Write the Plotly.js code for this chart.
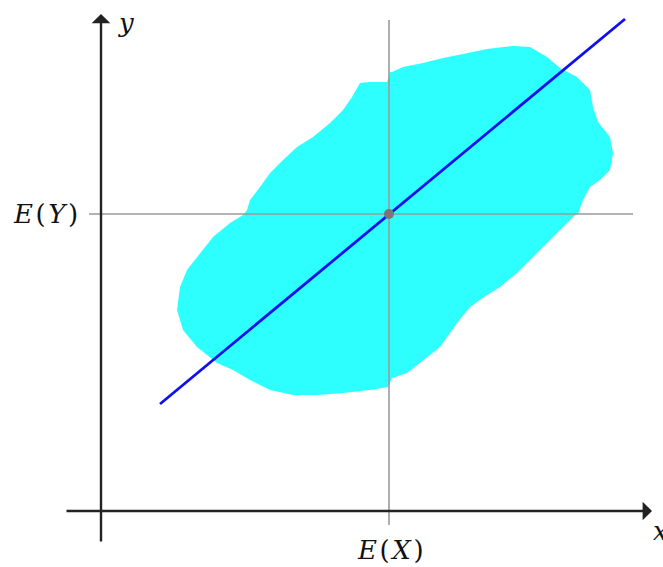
<!DOCTYPE html>
<html>
<head>
<meta charset="utf-8">
<script src="https://cdn.plot.ly/plotly-3.0.1.min.js"></script>
<style>html,body{margin:0;padding:0;background:#fff;}#chart{width:663px;height:567px;}</style>
</head>
<body>
<div id="chart"></div>
<script>
// Cloud outline, units: origin at axes crossing
var cloudX = [29.1,30.2,32.2,34.2,36.2,38.6,41.2,42.9,44.6,45.9,47.6,48.9,49.2,49.7,50.9,51.2,50.9,49.9,48.9,48.2,47.7,
  47.4,46.2,44.9,43.2,41.6,39.9,38.6,36.9,35.6,33.9,32.2,30.6,29.1,
  28.7,26.9,24.2,21.6,19.2,16.9,14.9,13.2,11.6,9.6,8.2,7.6,7.9,8.6,9.9,11.2,12.9,14.2,
  14.6,14.9,15.9,16.9,18.2,19.6,21.2,22.9,24.2,25.1,25.9,26.9,28.6,28.9];
var cloudY = [43.9,44.4,44.8,45.3,45.7,46.2,46.5,46.4,45.4,44.3,43.4,42.1,40.4,38.9,37.4,35.8,34.1,33.1,32.4,31.1,29.7,
  29.6,28.4,27.1,25.4,23.8,22.4,21.6,20.4,18.8,16.4,15.1,13.8,13.3,
  12.4,12.1,11.8,11.6,11.6,12.1,13.1,14.1,14.8,16.4,18.1,20.1,22.4,24.1,25.8,27.4,28.8,29.6,
  30.1,31.1,32.4,33.8,35.1,36.4,37.4,38.8,40.1,41.4,42.8,42.9,42.9,43.9];

var meanX = 28.8, meanY = 29.7;
var vGuideY = [-1.4, 49.1];
var hGuideX = [-1.2, 53.2];
var regX = [5.9, 52.4];
var regY = [10.7, 49.2];
var xAxisX = [-3.6, 55.1];
var yAxisY = [-3.2, 49.7];
var labels = {ey: '<i>E</i>\u200A(\u200A<i>Y</i>\u200A)', ex: '<i>E</i>\u200A(\u200A<i>X</i>\u200A)', y: '<i>y</i>', x: '<i>x</i>'};

var traces = [
  {x: cloudX, y: cloudY, mode: 'lines', fill: 'toself', fillcolor: 'rgb(45,255,255)',
   line: {width: 0, color: 'rgb(45,255,255)'}, hoverinfo: 'skip'},
  {x: [meanX, meanX], y: vGuideY, mode: 'lines', line: {color: '#9a9a9a', width: 1.6}, hoverinfo: 'skip'},
  {x: hGuideX, y: [meanY, meanY], mode: 'lines', line: {color: '#9a9a9a', width: 1.6}, hoverinfo: 'skip'},
  {x: regX, y: regY, mode: 'lines', line: {color: '#1010ee', width: 2.8}, hoverinfo: 'skip'},
  {x: [meanX], y: [meanY], mode: 'markers', marker: {color: '#777777', size: 10}, hoverinfo: 'skip'}
];

var labelFont = {family: 'DejaVu Serif', size: 26, color: '#111'};
var annotations = [
  {x: xAxisX[1], y: 0, ax: xAxisX[0], ay: 0, xref: 'x', yref: 'y', axref: 'x', ayref: 'y',
   text: '', showarrow: true, arrowhead: 1, arrowsize: 1.3, arrowwidth: 2.4, arrowcolor: '#222', standoff: 0},
  {x: 0, y: yAxisY[1], ax: 0, ay: yAxisY[0], xref: 'x', yref: 'y', axref: 'x', ayref: 'y',
   text: '', showarrow: true, arrowhead: 1, arrowsize: 1.3, arrowwidth: 2.4, arrowcolor: '#222', standoff: 0},
  {x: -2.1, y: meanY, xref: 'x', yref: 'y', text: labels.ey, showarrow: false,
   xanchor: 'right', yanchor: 'middle', font: labelFont},
  {x: meanX + 0.1, y: -3.9, xref: 'x', yref: 'y', text: labels.ex, showarrow: false,
   xanchor: 'center', yanchor: 'middle', font: labelFont},
  {x: 1.5, y: 48.8, xref: 'x', yref: 'y', text: labels.y, showarrow: false,
   xanchor: 'left', yanchor: 'middle', font: labelFont},
  {x: 55.0, y: -2.0, xref: 'x', yref: 'y', text: labels.x, showarrow: false,
   xanchor: 'left', yanchor: 'middle', font: labelFont}
];

var layout = {
  width: 663, height: 567,
  margin: {l: 0, r: 0, t: 0, b: 0},
  paper_bgcolor: '#fff', plot_bgcolor: '#fff',
  showlegend: false,
  xaxis: {range: [-10.1, 56.2], visible: false, fixedrange: true},
  yaxis: {range: [-5.6, 51.1], visible: false, fixedrange: true},
  annotations: annotations
};

Plotly.newPlot('chart', traces, layout, {staticPlot: true});
</script>
</body>
</html>
